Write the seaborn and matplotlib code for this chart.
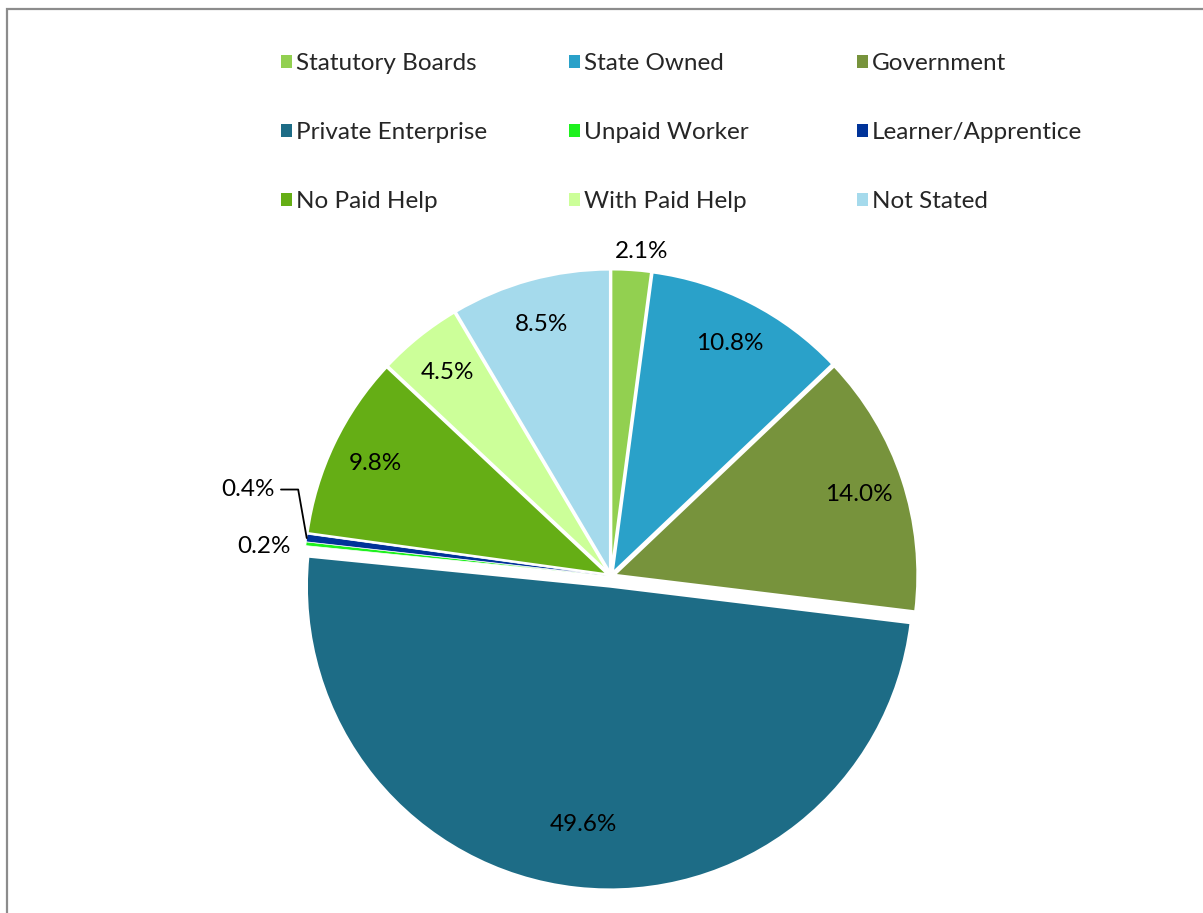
import numpy as np
import matplotlib
matplotlib.use("Agg")
import matplotlib.pyplot as plt
import seaborn as sns

sns.set_theme(style="white")
plt.rcParams['font.family'] = ['Lato', 'DejaVu Sans']

# data
categories = ['Statutory Boards', 'State Owned', 'Government', 'Private Enterprise',
              'Unpaid Worker', 'Learner/Apprentice', 'No Paid Help', 'With Paid Help',
              'Not Stated']
shares = [2.1, 10.8, 14.0, 49.6, 0.2, 0.4, 9.8, 4.5, 8.5]
colors = ['#92D050', '#2AA1C9', '#77933C', '#1D6C86', '#1EF11E',
          '#003399', '#65AE15', '#CCFF99', '#A5DAEC']
explode = [0.012, 0.012, 0.012, 0.035, 0.012, 0.012, 0.012, 0.012, 0.012]

W, H = 1203, 913
fig = plt.figure(figsize=(W / 100, H / 100), dpi=100)

# pie geometry in pixels
cx, cy, R = 611, 576, 303
L = 1.25
side = 2 * L * R
ax = fig.add_axes([(cx - side / 2) / W, (H - cy - side / 2) / H, side / W, side / H])

wedges, _ = ax.pie(shares, colors=colors, explode=explode, startangle=90,
                   counterclock=False, radius=1.0,
                   wedgeprops=dict(edgecolor='white', linewidth=1.6))
for w, v in zip(wedges, shares):
    if v < 1:
        w.set_linewidth(0.5)
ax.set_xlim(-L, L)
ax.set_ylim(-L, L)
ax.set_aspect('equal')
ax.axis('off')

fs = 17.5
for w, v in zip(wedges, shares):
    mid = np.deg2rad((w.theta1 + w.theta2) / 2)
    cxw, cyw = w.center
    lab = f'{v:.1f}%'
    if v >= 4:
        r = 0.79 if v > 40 else 0.85
        ax.text(cxw + r * np.cos(mid), cyw + r * np.sin(mid), lab,
                ha='center', va='center', fontsize=fs, color='black')
    elif v >= 1:
        r = 1.06
        ax.text(cxw + r * np.cos(mid) + 0.03, cyw + r * np.sin(mid), lab,
                ha='center', va='center', fontsize=fs, color='black')
    elif v < 0.3:
        r = 1.05
        ax.text(cxw + r * np.cos(mid), cyw + r * np.sin(mid) - 0.015, lab,
                ha='right', va='center', fontsize=fs, color='black')
    else:
        px, py = cxw + 1.0 * np.cos(mid), cyw + 1.0 * np.sin(mid)
        ax.annotate(lab, xy=(px, py), xytext=(px - 0.04 - 0.065, py + 0.16),
                    ha='right', va='center', fontsize=fs, color='black',
                    arrowprops=dict(arrowstyle='-', color='black', lw=1.3,
                                    shrinkA=2, shrinkB=0,
                                    connectionstyle='angle,angleA=0,angleB=100,rad=0'))

# legend: three columns, rows read left to right
col_x = [281, 569, 857]
for c in range(3):
    idx = [c, c + 3, c + 6]
    leg = fig.legend([wedges[i] for i in idx], [categories[i] for i in idx],
                     ncol=1, loc='upper left', bbox_to_anchor=(col_x[c] / W, 1 - 53 / H),
                     frameon=False, fontsize=fs, handlelength=0.45, handleheight=0.45,
                     handletextpad=0.15, labelspacing=1.98,
                     borderaxespad=0, borderpad=0)
    for h in leg.legend_handles:
        h.set_edgecolor('none')

# outer frame
fig.add_artist(plt.Rectangle((7 / W, -0.1), 1.1, 1 - 9 / H + 0.1,
                             transform=fig.transFigure, fill=False,
                             edgecolor='#8C8C8C', linewidth=1.6))

fig.savefig('out.png', dpi=100)
